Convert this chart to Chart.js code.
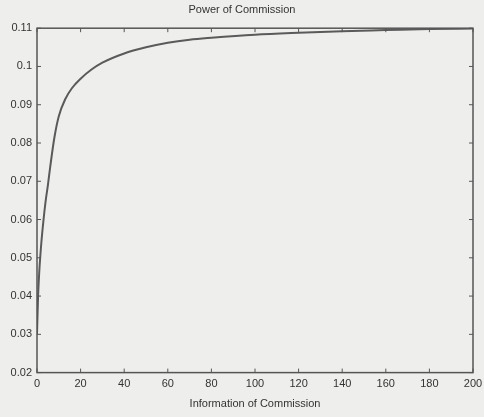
<!DOCTYPE html>
<html lang="en">
<head>
<meta charset="UTF-8">
<title>Power of Commission</title>
<script src="https://cdn.jsdelivr.net/npm/chart.js"></script>
<style>
    * { margin: 0; padding: 0; box-sizing: border-box; }
    body { background-color: #eeeeec; font-family: Arial, "Liberation Sans", sans-serif; }
    .container { width: 484px; height: 417px; }
</style>
</head>
<body>
<div class="container">
    <canvas id="power-chart" width="484" height="417"></canvas>
</div>
<script>
    // values
    var infoValues = [0, 0.5, 1, 2, 3, 4, 5, 6, 8, 10, 13, 16, 20, 25, 30, 40, 50, 60, 70, 80, 100, 120, 140, 160, 180, 200];
    var powerValues = [0.030, 0.040, 0.046, 0.054, 0.060, 0.065, 0.069, 0.0735, 0.0815, 0.0870, 0.0915, 0.0943, 0.0968, 0.0992, 0.1010, 0.1034, 0.1050, 0.1062, 0.1070, 0.1075, 0.1083, 0.1088, 0.1092, 0.1095, 0.1098, 0.1099];
    var xTicks = [0, 20, 40, 60, 80, 100, 120, 140, 160, 180, 200];
    var yTicks = [0.02, 0.03, 0.04, 0.05, 0.06, 0.07, 0.08, 0.09, 0.1, 0.11];

    var points = infoValues.map(function (x, i) { return { x: x, y: powerValues[i] }; });

    // box round the plot area plus inward ticks, like matlab
    var boxPlugin = {
        id: 'box',
        afterDraw: function (chart) {
            var ctx = chart.ctx, a = chart.chartArea;
            var xs = chart.scales.x, ys = chart.scales.y;
            ctx.save();
            ctx.strokeStyle = '#555';
            ctx.lineWidth = 1.5;
            ctx.strokeRect(a.left, a.top, a.right - a.left, a.bottom - a.top);
            ctx.lineWidth = 1;
            xTicks.forEach(function (t) {
                var px = xs.getPixelForValue(t);
                ctx.beginPath();
                ctx.moveTo(px, a.bottom); ctx.lineTo(px, a.bottom - 4);
                ctx.moveTo(px, a.top); ctx.lineTo(px, a.top + 4);
                ctx.stroke();
            });
            yTicks.forEach(function (t) {
                var py = ys.getPixelForValue(t);
                ctx.beginPath();
                ctx.moveTo(a.left, py); ctx.lineTo(a.left + 4, py);
                ctx.moveTo(a.right, py); ctx.lineTo(a.right - 4, py);
                ctx.stroke();
            });
            ctx.restore();
        }
    };

    Chart.defaults.font.family = 'Arial, "Liberation Sans", sans-serif';
    Chart.defaults.color = '#333';

    var ctx = document.getElementById('power-chart').getContext('2d');
    var myChart = new Chart(ctx, {
        type: 'line',
        data: {
            datasets: [{
                data: points,
                borderColor: '#5a5a5a',
                borderWidth: 2,
                pointRadius: 0,
                cubicInterpolationMode: 'monotone',
                fill: false
            }]
        },
        options: {
            responsive: false,
            animation: false,
            layout: { padding: { left: 0, right: 0, top: 3, bottom: 6 } },
            plugins: {
                legend: { display: false },
                tooltip: { enabled: false },
                title: {
                    display: true,
                    text: 'Power of Commission',
                    font: { size: 11, weight: 'normal' },
                    padding: { top: 0, bottom: 12 }
                }
            },
            scales: {
                x: {
                    type: 'linear',
                    min: 0,
                    max: 200,
                    afterBuildTicks: function (axis) {
                        axis.ticks = xTicks.map(function (v) { return { value: v }; });
                    },
                    afterFit: function (axis) { axis.paddingRight = 11; },
                    grid: { display: false, drawTicks: false },
                    border: { display: false },
                    ticks: { font: { size: 11 }, padding: 5, maxRotation: 0 },
                    title: {
                        display: true,
                        text: 'Information of Commission',
                        font: { size: 11 },
                        padding: { top: 2, bottom: 0 }
                    }
                },
                y: {
                    min: 0.02,
                    max: 0.11,
                    afterBuildTicks: function (axis) {
                        axis.ticks = yTicks.map(function (v) { return { value: v }; });
                    },
                    afterFit: function (axis) { axis.width = 37; },
                    grid: { display: false, drawTicks: false },
                    border: { display: false },
                    ticks: {
                        font: { size: 11 },
                        padding: 5,
                        callback: function (v) { return String(Number(v.toFixed(2))); }
                    }
                }
            }
        },
        plugins: [boxPlugin]
    });
</script>
</body>
</html>
